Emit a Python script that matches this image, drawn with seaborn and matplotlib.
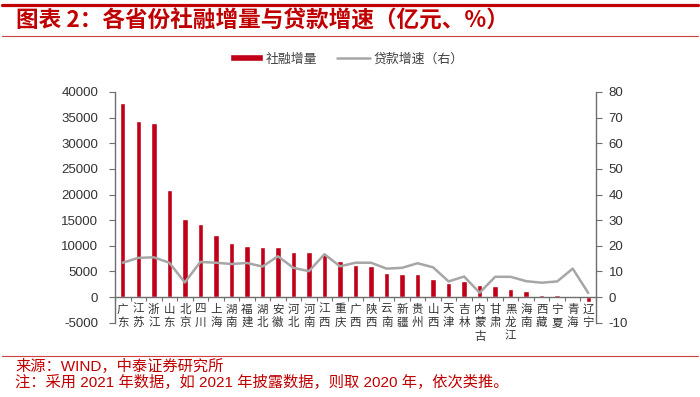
# -*- coding: utf-8 -*-
import numpy as np
import matplotlib
matplotlib.use('Agg')
import matplotlib.pyplot as plt
from matplotlib.lines import Line2D
import seaborn as sns

# 数据
provinces = ['广东', '江苏', '浙江', '山东', '北京', '四川', '上海', '湖南', '福建', '湖北',
             '安徽', '河北', '河南', '江西', '重庆', '广西', '陕西', '云南', '新疆', '贵州',
             '山西', '天津', '吉林', '内蒙古', '甘肃', '黑龙江', '海南', '西藏', '宁夏', '青海', '辽宁']
tsf_increase = [37870, 34380, 33990, 20870, 15310, 14280, 12150, 10470, 10020, 9820,
                9690, 8800, 8800, 8410, 6980, 6340, 6140, 4790, 4530, 4530,
                3620, 2710, 3040, 2270, 2070, 1550, 1160, 390, 330, 270, -1030]
loan_growth = [13.4, 15.3, 15.5, 13.4, 5.7, 13.7, 13.4, 12.9, 13.3, 11.9,
               15.9, 11.4, 10.1, 16.7, 12.0, 13.4, 13.4, 11.1, 11.4, 13.2,
               11.6, 6.1, 8.0, 1.7, 7.9, 7.9, 6.2, 5.6, 6.1, 11.1, 1.6]
left_ticks = list(range(-5000, 40001, 5000))
right_ticks = list(range(-10, 81, 10))

sns.set_style('white')
plt.rcParams['font.family'] = ['Liberation Sans', 'Noto Sans CJK SC']
plt.rcParams['axes.unicode_minus'] = False

red = '#C00018'
dark_red = '#C00000'
grey = '#A6A6A6'
axis_col = '#6E6E6E'
text_col = '#333333'

W, H = 700, 397
fig = plt.figure(figsize=(7, 3.97), dpi=100)
ax = fig.add_axes([115 / W, 1 - 322.7 / H, (596 - 115) / W, (322.7 - 92) / H])

# 柱状图：社融增量
sns.barplot(x=provinces, y=tsf_increase, color=red, width=0.35, saturation=1, ax=ax)

# 折线：贷款增速（右轴）
ax2 = ax.twinx()
sns.pointplot(x=provinces, y=loan_growth, color=grey, errorbar=None, marker='',
              linewidth=1.8, ax=ax2)

for a in (ax, ax2):
    if a.get_legend() is not None:
        a.get_legend().remove()

ax.set_xlim(-0.5, len(provinces) - 0.5)
ax.set_ylim(-5000, 40000)
ax.set_yticks(left_ticks)
ax2.set_ylim(-10, 80)
ax2.set_yticks(right_ticks)

# x 轴放在 0 位置, 竖排省份名
ax.spines['bottom'].set_position(('data', 0))
ax.set_xticks(range(len(provinces)))
ax.set_xticklabels(['\n'.join(p) for p in provinces], family=['Noto Sans CJK SC'],
                   fontsize=8.3, linespacing=1.05, color=text_col)
ax.set_xticks(np.arange(-0.5, len(provinces), 1), minor=True)
ax.tick_params(axis='x', which='major', length=0, pad=4)
ax.tick_params(axis='x', which='minor', bottom=True, length=3, width=0.8,
               direction='out', color=axis_col)
ax.set_xlabel('')
ax.set_ylabel('')
ax2.set_ylabel('')

ax.tick_params(axis='y', left=True, length=4, width=0.8, direction='out', pad=8,
               labelsize=9.5, color=axis_col, labelcolor=text_col)
ax2.tick_params(axis='y', right=True, length=4, width=0.8, direction='out', pad=5,
                labelsize=9.5, color=axis_col, labelcolor=text_col)

for s in ['top', 'right']:
    ax.spines[s].set_visible(False)
for s in ['top', 'left', 'bottom']:
    ax2.spines[s].set_visible(False)
for s in ['left', 'bottom']:
    ax.spines[s].set_color(axis_col)
    ax.spines[s].set_linewidth(1.0)
ax2.spines['right'].set_color(axis_col)
ax2.spines['right'].set_linewidth(1.0)

# 图例
fig.legend(handles=[ax.containers[0], ax2.lines[0]], labels=['社融增量', '贷款增速（右）'],
           loc='center', bbox_to_anchor=(0.495, 1 - 59 / H), ncol=2, frameon=False,
           prop={'family': ['Noto Sans CJK SC'], 'size': 9.3}, labelcolor='#404040',
           handlelength=2.6, handleheight=0.45, handletextpad=0.2, columnspacing=1.5)

# 标题与装饰线
fig.add_artist(Line2D([0.003, 0.997], [1 - 4.8 / H] * 2, color=dark_red, lw=2.3))
fig.text(16 / W, 1 - 21.5 / H, '图表 2：各省份社融增量与贷款增速（亿元、%）',
         family=['Noto Sans CJK SC'], fontsize=16.3, fontweight='bold',
         color=dark_red, ha='left', va='center')
fig.add_artist(Line2D([0.003, 0.997], [1 - 35.5 / H] * 2, color='#D04040', lw=0.8))

# 资料来源
fig.add_artist(Line2D([0.003, 0.997], [1 - 355.7 / H] * 2, color='#D04040', lw=0.8))
fig.text(15 / W, 1 - 366.7 / H, '来源：WIND，中泰证券研究所', fontsize=11,
         color=dark_red, ha='left', va='center')
fig.text(15 / W, 1 - 382.7 / H, '注：采用 2021 年数据，如 2021 年披露数据，则取 2020 年，依次类推。',
         fontsize=11, color=dark_red, ha='left', va='center')

fig.savefig('out.png', dpi=100)
